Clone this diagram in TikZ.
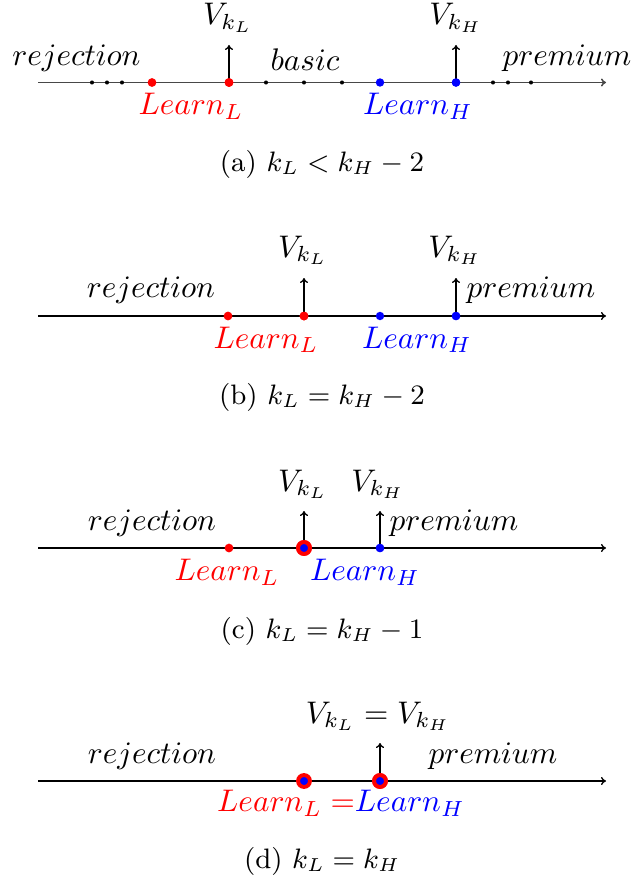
\documentclass[tikz,border=0pt]{standalone}
\usetikzlibrary{arrows.meta}
\begin{document}
\begin{tikzpicture}[x=0.32pt,y=-0.32pt,
  >={Computer Modern Rightarrow[length=1.6pt,width=2.6pt]},
  axisline/.style={line width=0.42pt,->},
  axisgray/.style={line width=0.5pt,->,draw=black!72},
  uparrow/.style={line width=0.42pt,->},
  sdot/.style={circle,fill=black,inner sep=0pt,minimum size=1.3pt},
  rdot/.style={circle,fill=red,inner sep=0pt,minimum size=2.8pt},
  bdot/.style={circle,fill=blue,inner sep=0pt,minimum size=2.7pt},
  bigdot/.style={circle,fill=blue,draw=red,line width=1.25pt,inner sep=0pt,minimum size=3.8pt},
  lab/.style={anchor=base,inner sep=0pt},
  captext/.style={anchor=base,inner sep=0pt,font=\fontsize{9}{11}\selectfont}]
\useasboundingbox (0,0) rectangle (631,883);

% ---------- panel (a) ----------
\coordinate (aS) at (38,82.5);
\coordinate (aE) at (606,82.5);
\draw[axisgray] (aS) -- (aE);
\foreach \i/\x in {1/92,2/107,3/122,4/266,5/304,6/342,7/493,8/508,9/531}
  \node[sdot] (as\i) at (\x,82.5) {};
\coordinate (aLt) at (229,45);
\coordinate (aHt) at (456,45);
\node[rdot] (aL1) at (152,82.5) {};
\node[rdot] (aL2) at (229,82.5) {};
\node[bdot] (aH1) at (380,82.5) {};
\node[bdot] (aH2) at (456,82.5) {};
\draw[uparrow] (aL2.center) -- (aLt);
\draw[uparrow] (aH2.center) -- (aHt);
\node[rdot] at (aL2) {};
\node[bdot] at (aH2) {};
\node[lab] (aVL) at (228,25) {$V_{k_L}$};
\node[lab] (aVH) at (456,25) {$V_{k_H}$};
\node[lab] (arej) at (76.5,65.5) {$rejection$};
\node[lab] (abas) at (305,71) {$basic$};
\node[lab] (aprem) at (567,65.5) {$premium$};
\node[lab,text=red] (aLL) at (191,115) {$Learn_L$};
\node[lab,text=blue] (aLH) at (418,115) {$Learn_H$};
\node[captext] (acap) at (322,171.5) {(a) $k_L < k_H - 2$};

% ---------- panel (b) ----------
\coordinate (bS) at (38,316);
\coordinate (bE) at (606,316);
\draw[axisline] (bS) -- (bE);
\coordinate (bLt) at (304,278);
\coordinate (bHt) at (456,278);
\node[rdot] (bL1) at (228,316) {};
\node[rdot] (bL2) at (304,316) {};
\node[bdot] (bH1) at (380,316) {};
\node[bdot] (bH2) at (456,316) {};
\draw[uparrow] (bL2.center) -- (bLt);
\draw[uparrow] (bH2.center) -- (bHt);
\node[rdot] at (bL2) {};
\node[bdot] at (bH2) {};
\node[lab] (bVL) at (303,257) {$V_{k_L}$};
\node[lab] (bVH) at (455,257) {$V_{k_H}$};
\node[lab] (brej) at (151,297) {$rejection$};
\node[lab] (bprem) at (531,297) {$premium$};
\node[lab,text=red] (bLL) at (266,348) {$Learn_L$};
\node[lab,text=blue] (bLH) at (417,348) {$Learn_H$};
\node[captext] (bcap) at (322,404.5) {(b) $k_L = k_H - 2$};

% ---------- panel (c) ----------
\coordinate (cS) at (38,548);
\coordinate (cE) at (606,548);
\draw[axisline] (cS) -- (cE);
\coordinate (cLt) at (304,511);
\coordinate (cHt) at (380,511);
\node[rdot] (cL1) at (229,548) {};
\node[bigdot] (cM) at (304,548) {};
\node[bdot] (cH) at (380,548) {};
\draw[uparrow] (cM.center) -- (cLt);
\draw[uparrow] (cH.center) -- (cHt);
\node[bigdot] at (cM) {};
\node[bdot] at (cH) {};
\node[lab] (cVL) at (303,491) {$V_{k_L}$};
\node[lab] (cVH) at (378,491) {$V_{k_H}$};
\node[lab] (crej) at (152,530) {$rejection$};
\node[lab] (cprem) at (454,530) {$premium$};
\node[lab,text=red] (cLL) at (227,580.5) {$Learn_L$};
\node[lab,text=blue] (cLH) at (365,580.5) {$Learn_H$};
\node[captext] (ccap) at (322,638) {(c) $k_L = k_H - 1$};

% ---------- panel (d) ----------
\coordinate (dS) at (38,781);
\coordinate (dE) at (606,781);
\draw[axisline] (dS) -- (dE);
\coordinate (dHt) at (380,743);
\node[bigdot] (dL) at (304,781) {};
\node[bigdot] (dH) at (380,781) {};
\draw[uparrow] (dH.center) -- (dHt);
\node[bigdot] at (dH) {};
\node[lab] (dV) at (378,723) {$V_{k_L} = V_{k_H}$};
\node[lab] (drej) at (152,763) {$rejection$};
\node[lab] (dprem) at (493,763) {$premium$};
\node[lab] (dLearn) at (341,811.5) {\textcolor{red}{$Learn_L =$}\textcolor{blue}{$Learn_H$}};
\node[captext] (dcap) at (322,868) {(d) $k_L = k_H$};
\end{tikzpicture}
\end{document}
